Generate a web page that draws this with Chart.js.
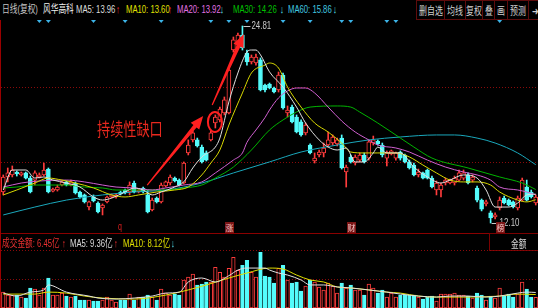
<!DOCTYPE html>
<html>
<head>
<meta charset="utf-8">
<script src="https://cdn.jsdelivr.net/npm/chart.js@4"></script>
<style>
  body { margin: 0; background: #000; width: 538px; height: 308px; overflow: hidden; position: relative;
         font-family: "Liberation Sans", "Noto Sans CJK SC", sans-serif; }
  .t { position: absolute; font-size: 11px; line-height: 12px; white-space: nowrap;
       transform: scaleX(0.7); transform-origin: 0 0; }
  .btn { position: absolute; top: 0; height: 18px; border: 1px solid #5e0c0c; box-sizing: content-box;
         color: #d0d0d0; font-size: 11px; line-height: 18px; white-space: nowrap;
         font-family: "Noto Sans CJK SC", sans-serif; }
  .btn span { position: absolute; left: 50%; top: 0; transform: translateX(-50%) scaleX(0.72); }
  .tag { position: absolute; top: 222px; width: 9px; height: 11px; background: #7a1515; color: #f4c8c8;
         font-size: 8px; line-height: 11px; text-align: center; font-family: "Noto Sans CJK SC", sans-serif; }
  canvas { position: absolute; left: 0; }
</style>
</head>
<body>
<!-- 顶部标题 -->
<span class="t" style="left:2px;top:3px;color:#c4c4c4">日线(复权)</span>
<span class="t" style="left:43px;top:3px;color:#f0f0f0">风华高科</span>
<span class="t" style="left:76px;top:3px;color:#dcdcdc">MA5: 13.96</span>
<span class="t" style="left:116px;top:3px;color:#ff3030">↑</span>
<span class="t" style="left:126px;top:3px;color:#e0e000">MA10: 13.60</span>
<span class="t" style="left:168px;top:3px;color:#ff3030">↑</span>
<span class="t" style="left:177px;top:3px;color:#e070e0">MA20: 13.92</span>
<span class="t" style="left:220px;top:3px;color:#54e8f8">↓</span>
<span class="t" style="left:233px;top:3px;color:#00c000">MA30: 14.26</span>
<span class="t" style="left:280px;top:3px;color:#54e8f8">↓</span>
<span class="t" style="left:288px;top:3px;color:#40c8e0">MA60: 15.86</span>
<span class="t" style="left:333px;top:3px;color:#54e8f8">↓</span>

<div class="btn" style="left:416px;width:27px"><span>删自选</span></div>
<div class="btn" style="left:444px;width:20px"><span>均线</span></div>
<div class="btn" style="left:465px;width:16px"><span>复权</span></div>
<div class="btn" style="left:482px;width:11px"><span>叠</span></div>
<div class="btn" style="left:494px;width:12px"><span>画</span></div>
<div class="btn" style="left:507px;width:20px"><span>预测</span></div>
<div class="btn" style="left:528px;width:12px;border-right:none"><span>➜</span></div>

<canvas id="price" width="538" height="213" style="top:20px"></canvas>

<span class="t" style="left:97px;top:119px;font-size:18px;line-height:18px;color:#e8281e;transform:scaleX(0.73);font-family:'Noto Sans CJK SC'">持续性缺口</span>
<span class="t" style="left:118px;top:221px;color:#e02020;font-size:10px">q</span>
<div class="tag" style="left:225px">涨</div>
<div class="tag" style="left:347px">财</div>
<div class="tag" style="left:496px">榜</div>

<div style="position:absolute;left:0;top:233px;width:538px;height:1px;background:#8a0000"></div>
<div style="position:absolute;left:0;top:20px;width:1px;height:288px;background:#9a0000"></div>

<!-- 成交金额 -->
<span class="t" style="left:2px;top:237px;color:#e83030">成交金额: 6.45亿</span>
<span class="t" style="left:62px;top:237px;color:#ff3030">↑</span>
<span class="t" style="left:70px;top:237px;color:#dcdcdc">MA5: 9.36亿</span>
<span class="t" style="left:114px;top:237px;color:#ff3030">↑</span>
<span class="t" style="left:123px;top:237px;color:#e0e000">MA10: 8.12亿</span>
<span class="t" style="left:171px;top:237px;color:#54e8f8">↓</span>
<div style="position:absolute;left:489px;top:233px;width:49px;height:16px;border:1px solid #7a0000;border-right:none"></div>
<span class="t" style="left:511px;top:237px;color:#d8d8d8;font-family:'Noto Sans CJK SC'">金额</span>

<canvas id="vol" width="538" height="58" style="top:250px"></canvas>

<script>
// 日K线数据（复权）
const days = Array.from({ length: 119 }, (_, i) => String(i + 1));

const open = [
  14.10, 15.07, 15.20, 15.39, 15.20, 15.33, 15.00, 14.87, 15.07, 15.20,
  15.58, 14.16, 14.23, 14.55, 14.75, 14.55, 14.68, 14.10, 13.91, 13.13,
  13.78, 13.39, 13.07, 13.46, 13.78, 13.78, 14.10, 14.23, 14.10, 14.68,
  14.10, 14.36, 13.91, 12.94, 13.71, 13.46, 14.49, 14.68, 15.00, 14.87,
  14.68, 16.62, 17.46, 17.46, 17.00, 16.62, 17.46, 18.55, 18.75, 19.20,
  19.20, 23.26, 23.58, 24.23, 23.07, 22.49, 22.42, 22.62, 21.00, 21.07,
  20.81, 20.68, 21.65, 19.20, 19.58, 18.94, 18.62, 17.91, 17.13, 16.10,
  16.49, 16.62, 17.13, 17.26, 17.20, 17.58, 15.39, 16.36, 15.97, 16.16,
  16.49, 16.29, 17.26, 17.39, 17.13, 16.29, 16.55, 16.29, 16.68, 16.49,
  16.04, 15.84, 15.20, 15.33, 15.52, 15.00, 14.23, 14.23, 14.68, 14.68,
  14.68, 14.87, 15.00, 15.20, 14.87, 14.36, 13.58, 13.33, 12.75, 12.49,
  13.07, 13.71, 13.58, 13.46, 13.07, 13.58, 14.42, 14.10, 13.39
];
const high = [
  15.20, 15.65, 15.78, 15.46, 15.39, 15.39, 15.13, 15.46, 15.33, 15.97,
  15.65, 14.36, 14.55, 14.81, 14.81, 14.87, 14.75, 14.16, 13.97, 13.52,
  13.91, 13.46, 13.33, 13.84, 13.97, 13.97, 14.16, 14.29, 14.75, 14.81,
  14.29, 14.42, 14.23, 13.71, 13.78, 14.68, 14.81, 15.20, 15.07, 14.94,
  16.04, 17.46, 18.04, 17.58, 17.13, 16.75, 18.04, 19.07, 19.58, 20.23,
  22.10, 24.10, 24.36, 24.81, 23.26, 22.94, 23.00, 22.75, 21.07, 21.13,
  20.87, 21.84, 21.78, 19.65, 19.71, 19.07, 18.75, 18.55, 17.20, 16.62,
  16.81, 17.26, 17.97, 17.78, 17.58, 17.78, 15.84, 16.49, 16.49, 16.62,
  16.62, 17.46, 17.71, 17.46, 17.26, 16.75, 16.81, 16.68, 16.75, 16.55,
  16.16, 15.97, 15.58, 15.39, 15.58, 15.13, 14.81, 14.68, 15.00, 14.94,
  15.13, 15.52, 15.52, 15.33, 15.20, 14.49, 13.65, 13.58, 12.88, 12.75,
  13.78, 13.84, 13.65, 13.52, 13.84, 15.00, 14.87, 14.23, 13.91
];
const low = [
  13.91, 14.75, 15.07, 15.13, 15.13, 14.94, 14.04, 14.55, 15.00, 15.13,
  14.04, 14.10, 14.16, 14.49, 14.49, 14.49, 13.97, 13.71, 13.39, 12.94,
  13.46, 12.75, 12.62, 13.39, 13.71, 13.71, 13.91, 13.97, 13.91, 14.04,
  14.04, 14.04, 12.75, 12.88, 13.39, 13.39, 14.42, 14.55, 14.75, 14.49,
  14.62, 16.49, 17.33, 17.00, 15.97, 16.10, 17.39, 18.23, 18.62, 19.07,
  19.13, 23.13, 23.46, 23.26, 22.29, 22.36, 22.29, 20.62, 20.55, 20.75,
  20.49, 20.55, 19.45, 18.94, 18.55, 17.91, 17.71, 17.78, 16.55, 15.97,
  16.36, 16.36, 17.00, 17.13, 17.07, 15.58, 14.42, 15.97, 15.84, 16.04,
  15.97, 16.16, 17.13, 17.13, 16.36, 15.78, 16.49, 16.16, 16.16, 15.97,
  15.58, 15.13, 15.07, 14.94, 14.94, 14.36, 13.91, 13.78, 14.55, 14.62,
  14.55, 14.81, 14.87, 14.62, 14.75, 13.46, 12.88, 13.20, 12.10, 12.36,
  12.94, 13.33, 13.20, 13.07, 12.94, 13.52, 13.52, 13.71, 13.26
];
const close = [
  15.07, 15.33, 15.52, 15.26, 15.33, 15.00, 14.10, 15.33, 15.20, 15.52,
  14.10, 14.29, 14.42, 14.75, 14.55, 14.75, 14.04, 13.78, 13.46, 13.46,
  13.52, 12.81, 13.26, 13.78, 13.91, 13.91, 13.97, 14.04, 14.55, 14.10,
  14.23, 14.10, 12.81, 13.58, 13.46, 14.55, 14.75, 15.07, 14.81, 14.55,
  15.97, 17.13, 17.91, 17.07, 16.04, 16.16, 17.91, 18.94, 19.45, 20.04,
  21.97, 23.91, 24.23, 23.39, 22.49, 22.81, 22.81, 20.68, 20.68, 20.81,
  20.55, 21.65, 19.52, 19.39, 18.62, 17.97, 17.78, 18.42, 16.62, 16.29,
  16.68, 16.94, 17.46, 17.65, 17.46, 15.65, 15.71, 16.04, 16.36, 16.49,
  16.04, 17.33, 17.46, 17.20, 16.49, 16.62, 16.75, 16.62, 16.29, 16.04,
  15.65, 15.20, 15.39, 15.00, 15.00, 14.42, 14.68, 14.55, 14.87, 14.87,
  15.00, 15.33, 15.33, 14.68, 15.07, 13.58, 13.00, 13.46, 12.42, 12.62,
  13.58, 13.39, 13.26, 13.13, 13.71, 14.87, 13.58, 13.78, 13.78
];

// 成交金额（亿）
const amount = [
  9.6, 7.8, 7.8, 7.8, 6.6, 6.0, 12.0, 11.4, 7.8, 12.0,
  18.0, 7.8, 7.8, 9.0, 7.2, 6.6, 7.2, 4.8, 4.8, 4.8,
  4.2, 4.2, 4.8, 6.6, 4.8, 3.6, 4.8, 4.8, 8.4, 4.8,
  6.6, 6.6, 7.8, 6.6, 4.8, 11.4, 9.0, 7.8, 8.4, 7.8,
  16.8, 18.6, 20.4, 13.8, 14.4, 15.6, 15.6, 24.6, 21.6, 18.6,
  24.0, 30.6, 22.8, 25.8, 28.8, 21.6, 18.6, 33.6, 19.2, 18.6,
  15.0, 24.0, 25.8, 16.8, 15.0, 15.6, 10.2, 13.2, 16.8, 15.6,
  12.6, 10.8, 15.0, 13.2, 9.0, 15.0, 12.0, 13.8, 10.8, 10.8,
  7.8, 14.4, 12.0, 9.0, 10.8, 6.6, 9.0, 6.6, 7.8, 7.8,
  7.8, 7.8, 6.6, 5.4, 6.6, 7.2, 4.2, 8.4, 8.4, 8.4,
  9.0, 7.8, 7.8, 7.2, 6.0, 9.0, 7.8, 4.8, 7.2, 6.0,
  12.0, 7.2, 8.4, 6.6, 8.4, 15.6, 11.4, 6.6, 6.45
];

// 均线读数 [K线序号, 值]
const ma5Pts = [[0,14.23],[2,15.52],[5,15.52],[7,15.00],[9,15.07],[11,14.87],[14,14.68],[17,14.42],[20,13.78],[22,13.58],
  [24,13.71],[27,14.10],[29,14.36],[31,14.23],[33,13.91],[35,14.10],[38,14.42],[40,14.75],[42,15.65],[44,16.36],
  [47,17.00],[48,17.58],[50,19.91],[52,21.78],[54,23.13],[55,23.26],[56,23.26],[57,22.95],[59,21.85],[62,20.87],
  [65,19.58],[67,18.55],[70,17.46],[72,17.00],[74,16.81],[76,16.94],[78,16.04],[80,16.04],[82,16.62],[83,17.00],
  [85,16.62],[88,16.62],[91,15.71],[94,15.07],[97,14.68],[99,14.87],[102,15.20],[105,15.00],[107,14.23],[109,13.13],
  [112,13.13],[114,13.39],[116,13.91],[118,13.96]];
const ma10Pts = [[0,13.91],[3,14.23],[7,14.68],[10,15.00],[13,14.87],[16,14.68],[20,14.36],[24,13.91],[27,13.78],[30,13.91],
  [34,14.10],[38,14.23],[41,14.42],[44,15.20],[46,15.97],[48,16.81],[50,18.42],[53,20.49],[55,21.78],[58,22.29],
  [59,22.42],[61,22.10],[63,20.87],[66,19.58],[69,18.55],[72,17.97],[75,17.26],[77,16.68],[80,16.62],[83,16.62],
  [87,16.62],[90,16.36],[93,15.84],[96,15.33],[99,14.87],[102,14.75],[105,14.75],[108,14.55],[110,14.10],[114,13.58],
  [116,13.46],[118,13.60]];
const ma20Pts = [[0,14.42],[4,14.68],[8,14.81],[14,14.87],[18,14.75],[22,14.55],[25,14.42],[29,14.36],[33,14.23],[36,14.36],
  [40,14.55],[44,14.75],[47,15.33],[51,16.16],[53,16.62],[54,17.30],[56,18.10],[58,18.90],[59,19.39],[61,20.17],
  [63,20.62],[65,20.81],[67,20.81],[69,20.49],[72,19.58],[75,18.68],[78,17.97],[81,17.46],[83,17.13],[87,16.94],
  [90,16.68],[94,16.16],[98,15.71],[102,15.39],[105,15.20],[108,14.87],[110,14.42],[114,14.23],[116,14.10],[118,13.92]];
const ma30Pts = [[0,14.36],[3,14.42],[7,14.55],[10,14.55],[14,14.55],[18,14.42],[22,14.36],[25,14.23],[29,14.23],[33,14.23],
  [36,14.23],[40,14.36],[44,14.55],[47,15.00],[51,15.71],[55,16.81],[59,18.10],[62,18.75],[65,19.26],[68,19.58],
  [74,19.65],[77,19.58],[79,19.26],[83,18.55],[88,17.58],[91,17.00],[95,16.29],[103,15.65],[110,15.07],[115,14.68],
  [118,14.26]];
const ma60Pts = [[0,12.62],[7,13.13],[14,13.58],[22,13.91],[29,14.10],[36,14.23],[44,14.68],[51,15.33],[59,16.04],[66,16.68],
  [74,17.13],[81,17.46],[88,17.65],[96,17.78],[100,17.78],[105,17.58],[109,17.26],[114,16.62],[118,15.86]];

const volMa5Pts = [[0,9.0],[3,7.2],[6,9.6],[9,10.9],[10,13.9],[14,9.6],[19,7.2],[21,6.0],[25,5.4],[29,6.0],
  [33,7.2],[36,9.0],[39,9.6],[41,15.7],[44,18.1],[47,15.7],[50,19.5],[52,22.9],[54,24.1],[56,24.1],
  [58,24.1],[59,22.9],[61,21.1],[63,19.9],[66,16.9],[68,13.9],[71,13.9],[74,12.7],[77,12.1],[81,10.9],
  [85,9.6],[88,8.4],[92,7.2],[96,6.6],[99,7.2],[103,7.2],[107,6.6],[110,7.2],[114,9.0],[116,9.6],[118,9.36]];
const volMa10Pts = [[0,8.4],[7,8.4],[10,9.6],[14,9.0],[18,7.2],[22,6.0],[29,5.4],[36,7.8],[41,10.9],[45,13.9],
  [50,18.1],[54,21.1],[59,24.1],[62,23.5],[65,19.9],[68,16.9],[71,15.7],[74,12.7],[77,12.1],[81,10.9],
  [85,9.6],[88,9.0],[92,7.2],[96,6.6],[103,6.6],[110,7.2],[114,8.4],[118,8.12]];

// 信息地雷位置
const newsIdx = [8, 10, 20, 27, 35, 46, 50, 54, 62, 68, 75, 77, 85, 87, 110];

// 标注：箭头 [起点序号, 起点价, 终点序号, 终点价]，缺口圈
const arrowsAt = [[31.9, 14.55, 44.3, 19.0], [46.3, 19.71, 53.3, 24.29]];
const gapAt = [46.9, 18.62];

const UP = '#ff3c3c', DOWN = '#54fcfc';
const isUp = close.map((c, i) => c >= open[i]);

function sparse(pts) {
  const a = days.map(() => null);
  pts.forEach(([i, v]) => { a[i] = v; });
  return a;
}

function maLine(pts, color) {
  return {
    type: 'line', data: sparse(pts), borderColor: color, borderWidth: 1,
    pointRadius: 0, spanGaps: true, cubicInterpolationMode: 'monotone', order: 0
  };
}

function yAxis(min, max, grids) {
  return {
    min: min, max: max,
    ticks: { display: false },
    border: { display: false, dash: [1, 2] },
    grid: { color: '#8a0a0a', drawTicks: false },
    afterBuildTicks: s => { s.ticks = grids.map(v => ({ value: v })); },
    afterFit: s => { s.width = 0; }
  };
}

function arrow(ctx, x0, y0, x1, y1) {
  const len = Math.hypot(x1 - x0, y1 - y0);
  const ux = (x1 - x0) / len, uy = (y1 - y0) / len;
  const nx = -uy, ny = ux;
  const bx = x1 - ux * 13, by = y1 - uy * 13;
  ctx.beginPath();
  ctx.moveTo(x0 + nx * 0.6, y0 + ny * 0.6);
  ctx.lineTo(bx + nx * 2, by + ny * 2);
  ctx.lineTo(bx + nx * 5.5, by + ny * 5.5);
  ctx.lineTo(x1, y1);
  ctx.lineTo(bx - nx * 5.5, by - ny * 5.5);
  ctx.lineTo(bx - nx * 2, by - ny * 2);
  ctx.lineTo(x0 - nx * 0.6, y0 - ny * 0.6);
  ctx.closePath();
  ctx.fill();
}

function extremeLabel(ctx, px, py, text) {
  ctx.strokeStyle = '#c8c8c8';
  ctx.lineWidth = 1;
  ctx.beginPath();
  ctx.moveTo(px + 1, Math.round(py) + 0.5);
  ctx.lineTo(px + 8, Math.round(py) + 0.5);
  ctx.stroke();
  ctx.save();
  ctx.translate(px + 9, py);
  ctx.scale(0.72, 1);
  ctx.fillStyle = '#c8c8c8';
  ctx.font = '11px "Liberation Sans"';
  ctx.textBaseline = 'middle';
  ctx.fillText(text, 0, 0);
  ctx.restore();
}

const marks = {
  id: 'marks',
  afterDatasetsDraw(chart) {
    const { ctx, chartArea } = chart;
    const x = chart.scales.x, y = chart.scales.y;
    ctx.save();
    ctx.fillStyle = '#3cb4e8';
    newsIdx.forEach(i => {
      const px = x.getPixelForValue(i);
      ctx.beginPath();
      ctx.moveTo(px - 2.5, chartArea.top);
      ctx.lineTo(px + 2.5, chartArea.top);
      ctx.lineTo(px, chartArea.top + 3);
      ctx.fill();
    });
    ctx.fillStyle = '#ff2020';
    arrowsAt.forEach(([i0, p0, i1, p1]) =>
      arrow(ctx, x.getPixelForValue(i0), y.getPixelForValue(p0), x.getPixelForValue(i1), y.getPixelForValue(p1)));
    ctx.strokeStyle = '#ff2020';
    ctx.lineWidth = 2;
    ctx.beginPath();
    ctx.ellipse(x.getPixelForValue(gapAt[0]), y.getPixelForValue(gapAt[1]), 7, 10, 0, 0, Math.PI * 2);
    ctx.stroke();
    const hi = high.indexOf(Math.max(...high));
    const lo = low.indexOf(Math.min(...low));
    extremeLabel(ctx, x.getPixelForValue(hi), y.getPixelForValue(high[hi]), high[hi].toFixed(2));
    extremeLabel(ctx, x.getPixelForValue(lo), y.getPixelForValue(low[lo]), low[lo].toFixed(2));
    ctx.restore();
  }
};

const common = {
  responsive: false,
  animation: false,
  events: [],
  layout: { padding: { left: 1, right: 0, top: 0, bottom: 0 } },
  plugins: { legend: { display: false }, tooltip: { enabled: false } }
};

new Chart(document.getElementById('price'), {
  type: 'bar',
  data: {
    labels: days,
    datasets: [
      maLine(ma5Pts, '#e0e0e0'),
      maLine(ma10Pts, '#d8d800'),
      maLine(ma20Pts, '#d060d0'),
      maLine(ma30Pts, '#00b400'),
      maLine(ma60Pts, '#1aa8bc'),
      {
        data: days.map((_, i) => [open[i], close[i]]),
        backgroundColor: isUp.map(u => u ? '#000' : DOWN),
        borderColor: isUp.map(u => u ? UP : DOWN),
        borderWidth: 1, borderSkipped: false, minBarLength: 1,
        barThickness: 4, grouped: false, order: 1
      },
      {
        data: days.map((_, i) => [low[i], high[i]]),
        backgroundColor: isUp.map(u => u ? UP : DOWN),
        barThickness: 1, grouped: false, order: 2
      }
    ]
  },
  options: Object.assign({}, common, {
    scales: {
      x: { display: false, offset: true },
      y: yAxis(11.455, 25.197, [16.03, 20.81])
    }
  }),
  plugins: [marks]
});

new Chart(document.getElementById('vol'), {
  type: 'bar',
  data: {
    labels: days,
    datasets: [
      maLine(volMa5Pts, '#e0e0e0'),
      maLine(volMa10Pts, '#e0e000'),
      {
        data: amount,
        backgroundColor: isUp.map(u => u ? '#000' : DOWN),
        borderColor: isUp.map(u => u ? UP : DOWN),
        borderWidth: 1, borderSkipped: false,
        barThickness: 3.6, grouped: false, order: 1
      }
    ]
  },
  options: Object.assign({}, common, {
    scales: {
      x: { display: false, offset: true },
      y: yAxis(0, 35, [17.5, 34.4])
    }
  })
});
</script>
</body>
</html>
